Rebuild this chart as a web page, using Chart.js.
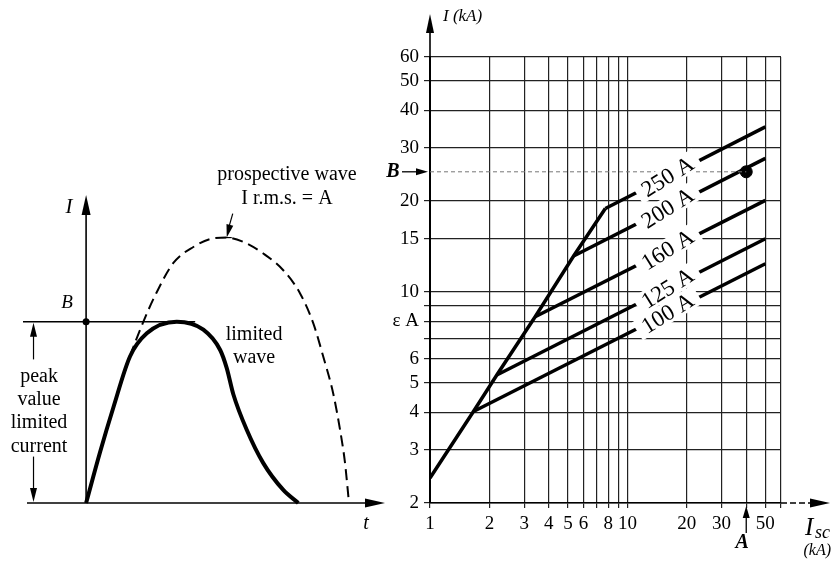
<!DOCTYPE html>
<html>
<head>
<meta charset="utf-8">
<script src="https://cdn.jsdelivr.net/npm/chart.js@4.4.1/dist/chart.umd.min.js"></script>
<style>
  body { margin: 0; background: #fff; }
  #wrap { position: relative; width: 833px; height: 562px; }
  #wrap canvas { position: absolute; left: 0; top: 0; }
</style>
</head>
<body>
<div id="wrap">
  <canvas id="wave" width="833" height="562"></canvas>
  <canvas id="fuse" width="833" height="562"></canvas>
</div>
<script>
'use strict';

// left figure: time (ms) vs current (kA)
var limitedT = [0, 0.53, 1.04, 1.67, 2.31, 3.45, 4.46, 5.10, 5.35, 5.6, 6.11, 6.74, 7.5, 8.07];
var limitedI = [0, 7.0, 13.2, 20.2, 23.4, 25.0, 23.9, 21.1, 18.6, 15.0, 10.1, 5.5, 1.8, 0];
var prospT = [0, 0.53, 1.04, 1.67, 2.18, 2.65, 3.32, 4.08, 4.84, 5.35, 5.98, 6.74, 7.5, 8.14, 8.64, 9.02, 9.40, 9.66, 9.85, 10.0];
var prospI = [0, 7.0, 13.2, 20.2, 25.0, 28.8, 33.1, 35.3, 36.5, 36.6, 36.0, 34.4, 32.1, 28.9, 24.8, 20.2, 15.1, 10.1, 5.5, 0];
var peakB = 25;
var bLineEnd = 4.15;

// right figure: prospective current Isc (kA) vs cut-off peak current (kA)
var fuseRatings = ['100 A', '125 A', '160 A', '200 A', '250 A'];
var kneeIsc = [1.66, 2.18, 3.41, 5.34, 7.73];
var kneePeak = [4.02, 5.31, 8.28, 13.15, 18.9];
var endIsc = 50;
var endPeak = [12.4, 15.0, 20.1, 27.7, 35.2];
var startIsc = 1;
var startPeak = 2.42;
var xGrid = [1, 2, 3, 4, 5, 6, 7, 8, 9, 10, 20, 30, 40, 50, 60];
var xLabels = ['1', '2', '3', '4', '5', '6', '', '8', '', '10', '20', '30', '', '50', ''];
var yGrid = [2, 3, 4, 5, 6, 7, 8, 9, 10, 15, 20, 30, 40, 50, 60];
var yLabels = ['2', '3', '4', '5', '6', '', 'ε A', '', '10', '15', '20', '30', '40', '50', '60'];
var pointA = 40;
var pointB = 25;
var labelIsc = 16;

var serif = '"Liberation Serif", "Times New Roman", serif';

function line(ctx, x1, y1, x2, y2) {
    ctx.beginPath();
    ctx.moveTo(x1, y1);
    ctx.lineTo(x2, y2);
    ctx.stroke();
}

function arrowHead(ctx, x, y, ang, len, half) {
    ctx.save();
    ctx.translate(x, y);
    ctx.rotate(ang);
    ctx.beginPath();
    ctx.moveTo(0, 0);
    ctx.lineTo(-len, -half);
    ctx.lineTo(-len, half);
    ctx.closePath();
    ctx.fill();
    ctx.restore();
}

function text(ctx, str, x, y, font, align) {
    ctx.font = font;
    ctx.textAlign = align || 'center';
    ctx.textBaseline = 'middle';
    ctx.fillText(str, x, y);
}

/////////////////////////////////////////////////////////////////////////////////
// Left: limited / prospective wave

var waveDecor = {
    id: 'waveDecor',
    beforeDatasetsDraw: function(chart) {
        var ctx = chart.ctx, xs = chart.scales.x, ys = chart.scales.y, a = chart.chartArea;
        var x0 = xs.getPixelForValue(0), y0 = ys.getPixelForValue(0), yB = ys.getPixelForValue(peakB);
        ctx.save();
        ctx.strokeStyle = '#000';
        ctx.fillStyle = '#000';
        ctx.lineWidth = 1.6;
        line(ctx, a.left + 4, y0, a.right - 10, y0);
        arrowHead(ctx, a.right, y0, 0, 20, 4.5);
        line(ctx, x0, y0, x0, a.top + 10);
        arrowHead(ctx, x0, a.top, -Math.PI / 2, 20, 4.5);
        ctx.lineWidth = 1.4;
        line(ctx, a.left, yB, xs.getPixelForValue(bLineEnd), yB);
        ctx.beginPath();
        ctx.arc(x0, yB, 3.5, 0, Math.PI * 2);
        ctx.fill();

        // double arrow for the peak value
        var xd = xs.getPixelForValue(-2.0);
        ctx.lineWidth = 1.2;
        line(ctx, xd, yB + 12, xd, ys.getPixelForValue(19.8));
        arrowHead(ctx, xd, yB + 1, -Math.PI / 2, 14, 3.5);
        line(ctx, xd, ys.getPixelForValue(6.4), xd, y0 - 12);
        arrowHead(ctx, xd, y0 - 1, Math.PI / 2, 14, 3.5);

        // pointer to the prospective peak
        var tipX = xs.getPixelForValue(5.35), tipY = ys.getPixelForValue(36.6);
        line(ctx, tipX + 6, tipY - 24, tipX + 2, tipY - 10);
        arrowHead(ctx, tipX, tipY, Math.atan2(24, -6), 13, 3.5);
        line(ctx, tipX - 5, tipY, tipX + 5, tipY);
        ctx.restore();
    },
    afterDraw: function(chart) {
        var ctx = chart.ctx, xs = chart.scales.x, ys = chart.scales.y;
        var P = function(t, i) { return [xs.getPixelForValue(t), ys.getPixelForValue(i)]; };
        var f = '20px ' + serif;
        ctx.save();
        ctx.fillStyle = '#000';
        var p;
        p = P(7.64, 45.2); text(ctx, 'prospective wave', p[0], p[1], f);
        p = P(7.64, 42.0); text(ctx, 'I r.m.s. = A', p[0], p[1], f);
        p = P(6.39, 23.2); text(ctx, 'limited', p[0], p[1], f);
        p = P(6.39, 20.0); text(ctx, 'wave', p[0], p[1], f);
        p = P(-1.79, 17.4); text(ctx, 'peak', p[0], p[1], f);
        p = P(-1.79, 14.2); text(ctx, 'value', p[0], p[1], f);
        p = P(-1.79, 11.0); text(ctx, 'limited', p[0], p[1], f);
        p = P(-1.79, 7.8); text(ctx, 'current', p[0], p[1], f);
        p = P(-0.72, 27.6); text(ctx, 'B', p[0], p[1], 'italic 19px ' + serif);
        p = P(-0.65, 40.7); text(ctx, 'I', p[0], p[1], 'italic 21px ' + serif);
        p = P(10.65, -2.8); text(ctx, 't', p[0], p[1], 'italic 20px ' + serif);
        ctx.restore();
    }
};

new Chart(document.getElementById('wave'), {
    type: 'line',
    data: {
        datasets: [{
            label: 'prospective wave',
            data: prospT.map((t, i) => ({ x: t, y: prospI[i] })),
            borderColor: '#000',
            borderWidth: 2,
            borderDash: [11, 6],
            pointRadius: 0,
            cubicInterpolationMode: 'monotone',
            clip: false
        }, {
            label: 'limited wave',
            data: limitedT.map((t, i) => ({ x: t, y: limitedI[i] })),
            borderColor: '#000',
            borderWidth: 4,
            pointRadius: 0,
            cubicInterpolationMode: 'monotone',
            clip: false
        }]
    },
    options: {
        responsive: false,
        animation: false,
        layout: { padding: { left: 23, right: 448, top: 195, bottom: 59 } },
        plugins: { legend: { display: false }, tooltip: { enabled: false } },
        scales: {
            x: { type: 'linear', min: -2.4, max: 11.37, display: false },
            y: { type: 'linear', min: 0, max: 42.47, display: false }
        }
    },
    plugins: [waveDecor]
});

/////////////////////////////////////////////////////////////////////////////////
// Right: cut-off current chart

var fuseDecor = {
    id: 'fuseDecor',
    afterDatasetsDraw: function(chart) {
        var ctx = chart.ctx, xs = chart.scales.x, ys = chart.scales.y;
        ctx.save();
        ctx.font = '23px ' + serif;
        ctx.textAlign = 'center';
        ctx.textBaseline = 'middle';
        fuseRatings.forEach(function(name, i) {
            var x1 = xs.getPixelForValue(kneeIsc[i]), y1 = ys.getPixelForValue(kneePeak[i]);
            var x2 = xs.getPixelForValue(endIsc), y2 = ys.getPixelForValue(endPeak[i]);
            var cx = xs.getPixelForValue(labelIsc);
            var cy = y1 + (cx - x1) / (x2 - x1) * (y2 - y1);
            var w = ctx.measureText(name).width;
            ctx.save();
            ctx.translate(cx, cy);
            // the printed labels lean a little steeper than the lines
            ctx.rotate(Math.atan2(y2 - y1, x2 - x1) - 0.09);
            ctx.fillStyle = '#fff';
            ctx.fillRect(-w / 2 - 7, -11, w + 14, 21);
            ctx.fillStyle = '#000';
            ctx.fillText(name, 0, 1);
            ctx.restore();
        });
        ctx.restore();
    },
    afterDraw: function(chart) {
        var ctx = chart.ctx, xs = chart.scales.x, ys = chart.scales.y, a = chart.chartArea;
        ctx.save();
        ctx.strokeStyle = '#000';
        ctx.fillStyle = '#000';
        ctx.lineWidth = 1.6;
        // axis extensions with arrows
        line(ctx, a.left, a.top, a.left, 30);
        arrowHead(ctx, a.left, 14, -Math.PI / 2, 19, 4);
        ctx.setLineDash([6, 3]);
        line(ctx, a.right, a.bottom, chart.width - 20, a.bottom);
        ctx.setLineDash([]);
        arrowHead(ctx, chart.width - 3, a.bottom, 0, 20, 4.5);

        text(ctx, 'I (kA)', a.left + 13, 17, 'italic 17px ' + serif, 'left');
        text(ctx, 'I', chart.width - 28, a.bottom + 25, 'italic 25px ' + serif, 'left');
        text(ctx, 'sc', chart.width - 18, a.bottom + 30, 'italic 18px ' + serif, 'left');
        text(ctx, '(kA)', chart.width - 2, a.bottom + 48, 'italic 16px ' + serif, 'right');

        // B marker on the current axis
        var yB = ys.getPixelForValue(pointB);
        text(ctx, 'B', a.left - 37, yB, 'bold italic 20px ' + serif);
        ctx.lineWidth = 1.3;
        line(ctx, a.left - 28, yB, a.left - 12, yB);
        arrowHead(ctx, a.left - 2, yB, 0, 12, 3.5);

        // A marker on the Isc axis
        var xA = xs.getPixelForValue(pointA);
        text(ctx, 'A', xA - 4, a.bottom + 40, 'bold italic 20px ' + serif);
        line(ctx, xA, a.bottom + 30, xA, a.bottom + 14);
        arrowHead(ctx, xA, a.bottom + 3, -Math.PI / 2, 12, 3.5);
        ctx.restore();
    }
};

var fuseSets = fuseRatings.map(function(name, i) {
    return {
        label: name,
        data: [{ x: kneeIsc[i], y: kneePeak[i] }, { x: endIsc, y: endPeak[i] }],
        borderColor: '#000',
        borderWidth: 3.5,
        pointRadius: 0
    };
});

new Chart(document.getElementById('fuse'), {
    type: 'line',
    data: {
        datasets: [{
            label: 'B level',
            data: [{ x: startIsc, y: pointB }, { x: pointA, y: pointB }],
            borderColor: '#777',
            borderWidth: 1,
            borderDash: [4, 3],
            pointRadius: 0
        }, {
            label: 'unlimited peak',
            data: [{ x: startIsc, y: startPeak }].concat(kneeIsc.map((v, i) => ({ x: v, y: kneePeak[i] }))),
            borderColor: '#000',
            borderWidth: 3.5,
            pointRadius: 0
        }].concat(fuseSets, [{
            label: 'operating point',
            data: [{ x: pointA, y: pointB }],
            showLine: false,
            pointRadius: 6,
            pointBackgroundColor: '#000',
            pointBorderColor: '#000'
        }])
    },
    options: {
        responsive: false,
        animation: false,
        layout: { padding: { left: 0, right: 52, top: 57, bottom: 0 } },
        plugins: { legend: { display: false }, tooltip: { enabled: false } },
        scales: {
            x: {
                type: 'logarithmic',
                min: 1,
                max: 60,
                afterBuildTicks: function(s) { s.ticks = xGrid.map(v => ({ value: v })); },
                afterFit: function(s) { s.height = 59; },
                ticks: {
                    autoSkip: false,
                    maxRotation: 0,
                    color: '#000',
                    padding: 5,
                    font: { family: serif, size: 19 },
                    callback: (v, i) => xLabels[i]
                },
                grid: { color: '#222', lineWidth: 1.2, tickLength: 5, tickColor: '#222' },
                border: { color: '#000', width: 1.6 }
            },
            y: {
                type: 'logarithmic',
                min: 2,
                max: 60,
                afterBuildTicks: function(s) { s.ticks = yGrid.map(v => ({ value: v })); },
                afterFit: function(s) { s.width = 430; },
                ticks: {
                    autoSkip: false,
                    color: '#000',
                    padding: 5,
                    font: { family: serif, size: 19 },
                    callback: (v, i) => yLabels[i]
                },
                grid: { color: '#222', lineWidth: 1.2, tickLength: 6, tickColor: '#222' },
                border: { color: '#000', width: 2 }
            }
        }
    },
    plugins: [fuseDecor]
});
</script>
</body>
</html>
